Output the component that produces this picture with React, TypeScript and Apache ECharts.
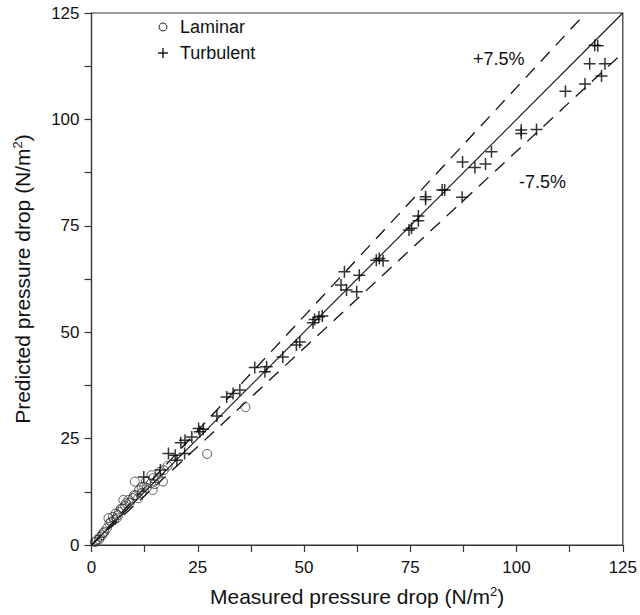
import React, { useEffect, useRef } from "react";
import * as echarts from "echarts";

const laminar: number[][] = [
  [0.8, 0.7], [1.3, 1.2], [1.8, 1.3], [2.0, 1.9], [2.5, 2.3], [2.7, 2.8], [3.0, 3.1],
  [3.6, 3.9], [4.2, 5.1], [4.0, 6.3], [4.6, 5.4], [5.0, 6.6], [5.3, 5.9], [5.9, 6.3],
  [5.7, 7.4], [6.2, 7.0], [6.5, 7.8], [6.9, 8.5], [7.3, 8.6], [7.5, 10.6], [7.9, 9.2],
  [8.1, 9.8], [8.7, 10.6], [9.0, 9.9], [9.7, 11.0], [10.0, 11.7], [10.2, 14.9], [10.4, 11.7],
  [11.0, 11.0], [11.2, 12.9], [11.8, 13.6], [11.8, 12.2], [12.4, 13.7], [12.8, 14.9],
  [13.0, 13.4], [14.0, 14.5], [14.1, 16.4], [14.4, 12.9], [14.5, 15.7], [14.9, 14.3],
  [15.6, 15.7], [16.1, 17.2], [16.8, 14.9], [17.0, 17.6], [17.9, 18.6], [27.2, 21.4],
  [36.2, 32.4],
];

const turbulent: number[][] = [
  [118.4, 117.4], [119.1, 117.3], [117.2, 113.1], [120.8, 113.1], [120.0, 110.2],
  [116.1, 108.3], [111.5, 106.6], [104.7, 97.6], [101.1, 97.5], [101.1, 96.7],
  [94.1, 92.4], [87.3, 90.0], [90.2, 88.7], [92.7, 89.5], [83.1, 83.4], [82.5, 83.4],
  [78.6, 81.8], [78.6, 81.2], [87.2, 81.7], [76.9, 77.3], [76.9, 76.2], [75.3, 74.4],
  [74.7, 74.0], [67.7, 67.3], [68.6, 66.8], [67.0, 66.9], [63.0, 63.4], [59.5, 64.2],
  [58.7, 61.1], [60.0, 59.9], [62.4, 59.5], [52.5, 53.0], [53.5, 53.6], [54.3, 53.8],
  [52.1, 52.2], [49.0, 47.7], [48.2, 47.0], [45.0, 44.2], [38.4, 41.7], [40.8, 40.7],
  [41.2, 41.9], [34.9, 36.4], [33.3, 35.6], [31.8, 34.8], [29.5, 30.3], [26.3, 27.2],
  [25.5, 26.6], [25.2, 27.4], [23.6, 25.4], [22.0, 24.6], [21.0, 24.0], [18.1, 21.5],
  [19.7, 21.1], [21.9, 21.5], [20.1, 19.9], [16.2, 17.6], [12.3, 16.0],
];

const AXIS_MAX = 125;
const UPPER = 1.075;
const LOWER = 0.925;
const tickLabels = [0, 25, 50, 75, 100, 125];
const seriesNames = ["Laminar", "Turbulent"];
const bandLabels = ["+7.5%", "-7.5%"];

const FONT = "'Liberation Sans', Arial, sans-serif";
const PLUS = "path://M5.25,0H6.75V12H5.25Z M0,5.25H12V6.75H0Z";

export default function App() {
  const ref = useRef<HTMLDivElement>(null);
  useEffect(() => {
    if (!ref.current) return;
    const chart = echarts.init(ref.current, undefined, { renderer: "svg" });
    const axisCommon = {
      type: "value",
      min: 0,
      max: AXIS_MAX,
      interval: 12.5,
      splitLine: { show: false },
      axisLine: { show: true, lineStyle: { color: "#333", width: 1.2 } },
      axisTick: { show: true, inside: false, length: 7, lineStyle: { color: "#333", width: 1.2 } },
      nameLocation: "middle",
    };
    const rich = {
      a: { fontFamily: FONT, fontSize: 21, color: "#111" },
      s: { fontFamily: FONT, fontSize: 13, color: "#111", verticalAlign: "top", padding: [0, 0, 10, 0] },
    };
    const labelFmt = (v: number) => (tickLabels.includes(v) ? String(v) : "");
    chart.setOption({
      animation: false,
      backgroundColor: "#fff",
      grid: {
        left: 91.5, top: 13, right: 15.5, bottom: 70,
        show: true, borderColor: "#333", borderWidth: 1.2, backgroundColor: "transparent",
      },
      xAxis: {
        ...axisCommon,
        name: "{a|Measured pressure drop (N/m}{s|2}{a|)}",
        nameGap: 40,
        nameTextStyle: { rich },
        axisLabel: { formatter: labelFmt, margin: 14, fontFamily: FONT, fontSize: 17, color: "#111" },
      },
      yAxis: {
        ...axisCommon,
        name: "{a|Predicted pressure drop (N/m}{s|2}{a|)}",
        nameGap: 58,
        nameTextStyle: { rich },
        axisLabel: { formatter: labelFmt, margin: 12, fontFamily: FONT, fontSize: 17, color: "#111" },
      },
      series: [
        {
          type: "line",
          data: [[0, 0], [AXIS_MAX, AXIS_MAX]],
          symbol: "none",
          lineStyle: { color: "#111", width: 1.1 },
          silent: true,
          z: 1,
        },
        {
          type: "line",
          data: [[0, 0], [AXIS_MAX / UPPER, AXIS_MAX]],
          symbol: "none",
          lineStyle: { color: "#111", width: 1.3, type: [13, 9] },
          silent: true,
          z: 1,
        },
        {
          type: "line",
          data: [[0, 0], [AXIS_MAX, AXIS_MAX * LOWER]],
          symbol: "none",
          lineStyle: { color: "#111", width: 1.3, type: [13, 9] },
          silent: true,
          z: 1,
        },
        {
          name: seriesNames[0],
          type: "scatter",
          data: laminar,
          symbol: "circle",
          symbolSize: 9,
          itemStyle: { color: "rgba(255,255,255,0)", borderColor: "#222", borderWidth: 0.9 },
          z: 3,
        },
        {
          name: seriesNames[1],
          type: "scatter",
          data: turbulent,
          symbol: PLUS,
          symbolSize: 12,
          itemStyle: { color: "#000", borderWidth: 0 },
          z: 4,
        },
      ],
      graphic: [
        {
          type: "circle", shape: { cx: 163, cy: 27, r: 4 },
          style: { fill: "none", stroke: "#222", lineWidth: 1 },
        },
        {
          type: "line", shape: { x1: 158, y1: 53, x2: 168, y2: 53 },
          style: { stroke: "#000", lineWidth: 1.3 },
        },
        {
          type: "line", shape: { x1: 163, y1: 48, x2: 163, y2: 58 },
          style: { stroke: "#000", lineWidth: 1.3 },
        },
        {
          type: "text", left: 180, top: 18,
          style: { text: seriesNames[0], font: `18px ${FONT}`, fill: "#111" },
        },
        {
          type: "text", left: 180, top: 44,
          style: { text: seriesNames[1], font: `18px ${FONT}`, fill: "#111" },
        },
        {
          type: "text", left: 473, top: 50,
          style: { text: bandLabels[0], font: `18px ${FONT}`, fill: "#111" },
        },
        {
          type: "text", left: 519, top: 173,
          style: { text: bandLabels[1], font: `18px ${FONT}`, fill: "#111" },
        },
      ],
    });
    return () => chart.dispose();
  }, []);
  return (
    <div
      ref={ref}
      style={{ width: 640, height: 615, position: "fixed", left: 0, top: 0 }}
    />
  );
}
